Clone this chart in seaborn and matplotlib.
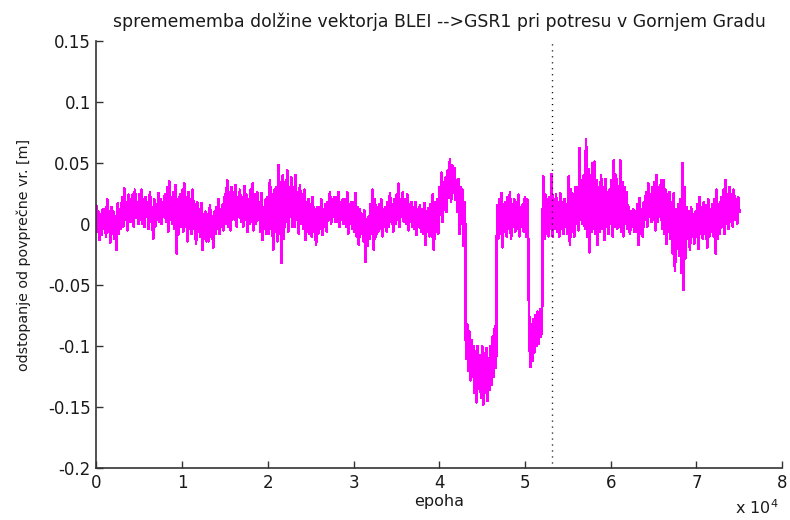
import numpy as np
import matplotlib
matplotlib.use("Agg")
import matplotlib.pyplot as plt
import seaborn as sns

# odstopanje od povprecne vrednosti [m], vzorec na vsakih 125 epoh (0 ... 75000)
# ena vrstica = 1000 epoh
step = 125
odstopanje = [
    0.015, -0.006, 0.010, -0.013, 0.008, -0.009, 0.012, -0.004,
    0.012, -0.010, 0.020, -0.006, 0.010, -0.015, 0.014, -0.008,
    0.010, -0.012, 0.006, -0.021, 0.017, -0.008, 0.012, -0.004,
    0.022, -0.002, 0.029, 0.004, 0.018, -0.005, 0.024, 0.002,
    0.020, 0.002, 0.024, -0.002, 0.028, 0.006, 0.018, 0.000,
    0.024, 0.004, 0.028, 0.000, 0.020, -0.002, 0.022, 0.006,
    0.018, -0.004, 0.026, 0.002, 0.014, -0.012, 0.020, -0.002,
    0.016, 0.004, 0.025, 0.002, 0.020, 0.000, 0.018, 0.006,
    0.024, 0.002, 0.030, -0.006, 0.035, 0.004, 0.022, 0.000,
    0.026, -0.004, 0.032, -0.024, 0.020, -0.008, 0.024, -0.002,
    # 10000
    0.028, -0.006, 0.033, -0.002, 0.022, -0.014, 0.026, -0.004,
    0.020, -0.008, 0.028, -0.004, 0.016, -0.016, 0.018, -0.006,
    0.012, -0.010, 0.017, -0.021, 0.008, -0.012, 0.010, -0.014,
    0.008, -0.014, 0.015, -0.010, 0.006, -0.019, 0.010, -0.008,
    0.014, -0.004, 0.020, -0.008, 0.012, -0.002, 0.016, -0.005,
    0.024, 0.000, 0.036, -0.002, 0.026, -0.005, 0.030, 0.004,
    0.026, 0.004, 0.032, -0.002, 0.022, 0.006, 0.028, 0.002,
    0.022, -0.002, 0.031, 0.004, 0.024, -0.006, 0.020, 0.000,
    0.028, 0.002, 0.033, -0.005, 0.024, 0.000, 0.026, 0.004,
    0.018, -0.006, 0.025, -0.013, 0.014, -0.004, 0.020, -0.008,
    # 20000
    0.022, -0.008, 0.036, -0.004, 0.024, -0.021, 0.028, -0.006,
    0.030, -0.014, 0.048, -0.008, 0.034, -0.032, 0.040, -0.012,
    0.034, 0.002, 0.044, -0.006, 0.030, 0.006, 0.038, -0.002,
    0.030, -0.002, 0.040, 0.004, 0.026, -0.008, 0.032, 0.000,
    0.024, -0.004, 0.028, -0.013, 0.018, -0.006, 0.020, -0.008,
    0.016, -0.010, 0.022, -0.006, 0.012, -0.017, 0.014, -0.008,
    0.014, -0.004, 0.020, -0.009, 0.012, -0.002, 0.016, -0.006,
    0.018, 0.004, 0.026, 0.000, 0.020, 0.006, 0.022, 0.002,
    0.022, 0.002, 0.026, -0.002, 0.018, 0.004, 0.020, 0.000,
    0.020, -0.002, 0.026, -0.008, 0.016, 0.000, 0.018, -0.004,
    # 30000
    0.018, -0.006, 0.025, -0.010, 0.014, -0.017, 0.012, -0.008,
    0.008, -0.014, 0.011, -0.031, 0.004, -0.018, 0.006, -0.012,
    0.016, -0.008, 0.028, -0.021, 0.020, -0.010, 0.014, -0.006,
    0.016, -0.004, 0.020, -0.010, 0.012, -0.002, 0.014, -0.006,
    0.018, -0.002, 0.025, 0.002, 0.016, -0.006, 0.020, 0.000,
    0.024, 0.004, 0.033, -0.002, 0.020, 0.006, 0.026, 0.002,
    0.020, 0.000, 0.024, -0.005, 0.016, 0.002, 0.018, -0.002,
    0.014, -0.004, 0.018, -0.009, 0.012, -0.002, 0.015, -0.006,
    0.012, -0.008, 0.017, -0.017, 0.010, -0.006, 0.013, -0.010,
    0.016, -0.010, 0.024, -0.021, 0.018, -0.006, 0.020, -0.008,
    # 40000
    0.030, 0.008, 0.042, 0.002, 0.034, 0.012, 0.038, 0.010,
    0.044, 0.022, 0.053, 0.018, 0.048, 0.026, 0.046, 0.020,
    0.036, 0.010, 0.037, -0.008, 0.030, 0.000, 0.028, -0.018,
    0.018, -0.110, -0.082, -0.120, -0.088, -0.128, -0.095, -0.125,
    -0.100, -0.138, -0.104, -0.146, -0.100, -0.135, -0.108, -0.142,
    -0.100, -0.148, -0.106, -0.138, -0.102, -0.145, -0.110, -0.136,
    -0.100, -0.132, -0.092, -0.125, -0.084, -0.118, 0.015, -0.012,
    0.020, -0.008, 0.025, -0.019, 0.016, -0.006, 0.018, -0.010,
    0.022, -0.004, 0.026, -0.012, 0.016, -0.002, 0.020, -0.006,
    0.018, -0.004, 0.024, -0.010, 0.014, -0.002, 0.016, -0.006,
    # 50000
    0.022, -0.010, 0.020, -0.014, -0.085, -0.117, -0.082, -0.112,
    -0.078, -0.105, -0.075, -0.100, -0.072, -0.098, -0.070, -0.092,
    -0.068, 0.039, -0.012, 0.024, -0.008, 0.020, -0.010, 0.022,
    -0.004, 0.041, -0.010, 0.020, -0.004, 0.024, -0.006, 0.018,
    -0.010, 0.025, -0.004, 0.018, -0.008, 0.020, -0.002, 0.016,
    -0.008, 0.039, -0.017, 0.028, -0.006, 0.024, -0.010, 0.030,
    0.000, 0.030, -0.005, 0.062, 0.004, 0.036, 0.000, 0.040,
    -0.004, 0.069, -0.010, 0.045, -0.023, 0.040, -0.006, 0.050,
    -0.004, 0.051, -0.008, 0.036, -0.017, 0.030, -0.006, 0.040,
    -0.004, 0.030, -0.013, 0.037, -0.002, 0.026, -0.008, 0.028,
    # 60000
    0.000, 0.036, -0.010, 0.052, -0.002, 0.040, -0.004, 0.030,
    -0.002, 0.052, -0.006, 0.034, -0.010, 0.030, 0.000, 0.026,
    -0.004, 0.014, -0.008, 0.010, -0.002, 0.012, -0.006, 0.010,
    -0.006, 0.016, -0.017, 0.021, -0.008, 0.012, -0.010, 0.018,
    0.004, 0.026, -0.002, 0.033, 0.006, 0.024, 0.002, 0.030,
    0.004, 0.034, -0.005, 0.040, 0.002, 0.030, 0.006, 0.036,
    -0.004, 0.036, -0.008, 0.028, -0.016, 0.024, -0.006, 0.026,
    -0.012, 0.018, -0.024, 0.025, -0.038, 0.012, -0.020, 0.016,
    -0.026, 0.020, -0.040, 0.050, -0.054, 0.030, -0.028, 0.014,
    -0.012, 0.010, -0.021, 0.014, -0.010, 0.008, -0.016, 0.010,
    # 70000
    -0.010, 0.016, -0.020, 0.022, -0.008, 0.014, -0.012, 0.018,
    -0.008, 0.015, -0.019, 0.020, -0.010, 0.012, -0.006, 0.016,
    -0.010, 0.020, -0.024, 0.028, -0.012, 0.016, -0.008, 0.022,
    -0.002, 0.028, -0.008, 0.036, 0.000, 0.024, -0.004, 0.030,
    0.002, 0.024, -0.002, 0.028, 0.004, 0.020, 0.000, 0.022,
    0.010,
]
epohe = np.arange(len(odstopanje)) * step

potres_epoha = 53160
x_ticks = [0, 10000, 20000, 30000, 40000, 50000, 60000, 70000, 80000]
x_labels = ["0", "1", "2", "3", "4", "5", "6", "7", "8"]
y_ticks = [-0.2, -0.15, -0.1, -0.05, 0, 0.05, 0.1, 0.15]
y_labels = ["-0.2", "-0.15", "-0.1", "-0.05", "0", "0.05", "0.1", "0.15"]

sns.set_theme(style="ticks")
plt.rcParams["font.family"] = ["DejaVu Sans"]

fig = plt.figure(figsize=(7.9, 5.2), dpi=100)
ax = fig.add_axes([0.122, 0.1, 0.868, 0.821])

sns.lineplot(x=epohe, y=odstopanje, ax=ax, color="#ff00ff", linewidth=1.3,
             estimator=None, sort=False, antialiased=False)

# potres v Gornjem Gradu
ax.axvline(potres_epoha, ymin=0.012, ymax=0.997, color="black",
           linewidth=1.0, linestyle=(0, (0.8, 3.5)))

ax.set_xlim(0, 80000)
ax.set_ylim(-0.2, 0.15)
ax.set_xticks(x_ticks)
ax.set_xticklabels(x_labels)
ax.set_yticks(y_ticks)
ax.set_yticklabels(y_labels)

ax.tick_params(direction="in", length=5, width=1.0, colors="#333333",
               labelsize=12, labelcolor="#1a1a1a", pad=4)
for side in ["top", "right"]:
    ax.spines[side].set_visible(False)
for side in ["left", "bottom"]:
    ax.spines[side].set_color("#333333")
    ax.spines[side].set_linewidth(1.2)

ax.set_title("spremememba dolžine vektorja BLEI -->GSR1 pri potresu v Gornjem Gradu",
             fontsize=12.4, color="#1a1a1a", pad=10)
ax.set_xlabel("epoha", fontsize=11.5, color="#1a1a1a", labelpad=2)
ax.set_ylabel("odstopanje od povprečne vr. [m]", fontsize=10.3, color="#1a1a1a", labelpad=12)
fig.text(0.93, 0.012, "x 10$^{4}$", fontsize=11.5, color="#1a1a1a")

fig.savefig("out.png", dpi=100)
